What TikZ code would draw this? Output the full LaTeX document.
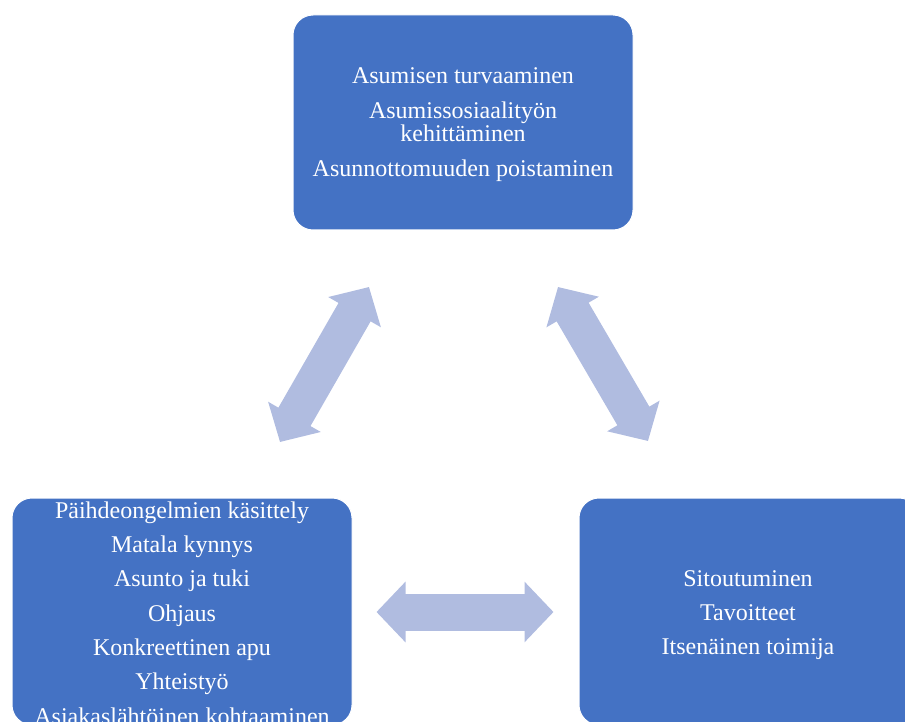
\documentclass[tikz,border=0pt]{standalone}
\usepackage{fontspec}
\setmainfont{Liberation Serif}
\usepackage{xcolor}
\usetikzlibrary{arrows.meta,positioning}
\definecolor{boxblue}{HTML}{4472C4}
\definecolor{linkblue}{RGB}{176,188,224}

\begin{document}
\begin{tikzpicture}[x=1pt,y=-1pt,font=\fontsize{24}{23}\selectfont,
  area/.style={draw=white,line width=1pt,fill=boxblue,rounded corners=20pt,minimum width=340pt,inner sep=0pt},
  words/.style={text=white,align=center,inner sep=0pt},
  link/.style={line width=37pt,draw=linkblue,{Triangle[length=29pt,width=59pt]}-{Triangle[length=29pt,width=59pt]}}]
\useasboundingbox (0,0) rectangle (905,722);
\clip (0,0) rectangle (905,722);
% boxes
\node[area,minimum height=215pt] (aim) at (463,122.5) {};
\node[area,minimum height=227pt] (work) at (182,611.5) {};
\node[area,minimum height=227pt,right=226pt of work] (client) {};
\node[words] (aimText) at (463,125) {Asumisen turvaaminen\\[12pt]Asumissosiaalityön\\kehittäminen\\[12pt]Asunnottomuuden poistaminen};
\node[words] (workText) at (182,613) {Päihdeongelmien käsittely\\[11.3pt]Matala kynnys\\[11.3pt]Asunto ja tuki\\[11.3pt]Ohjaus\\[11.3pt]Konkreettinen apu\\[11.3pt]Yhteistyö\\[11.3pt]Asiakaslähtöinen kohtaaminen};
\node[words] (clientText) at (748,615) {Sitoutuminen\\[11.3pt]Tavoitteet\\[11.3pt]Itsenäinen toimija};
% two-way arrows
\coordinate (l1) at (280,442);
\coordinate (l2) at (369,287);
\coordinate (r1) at (558,287);
\coordinate (r2) at (648,441);
\draw[link] (l1) -- (l2);
\draw[link] (r1) -- (r2);
\draw[link,shorten <=24pt,shorten >=25pt] (work.east |- 0,612) -- (client.west |- 0,612);
\end{tikzpicture}
\end{document}
